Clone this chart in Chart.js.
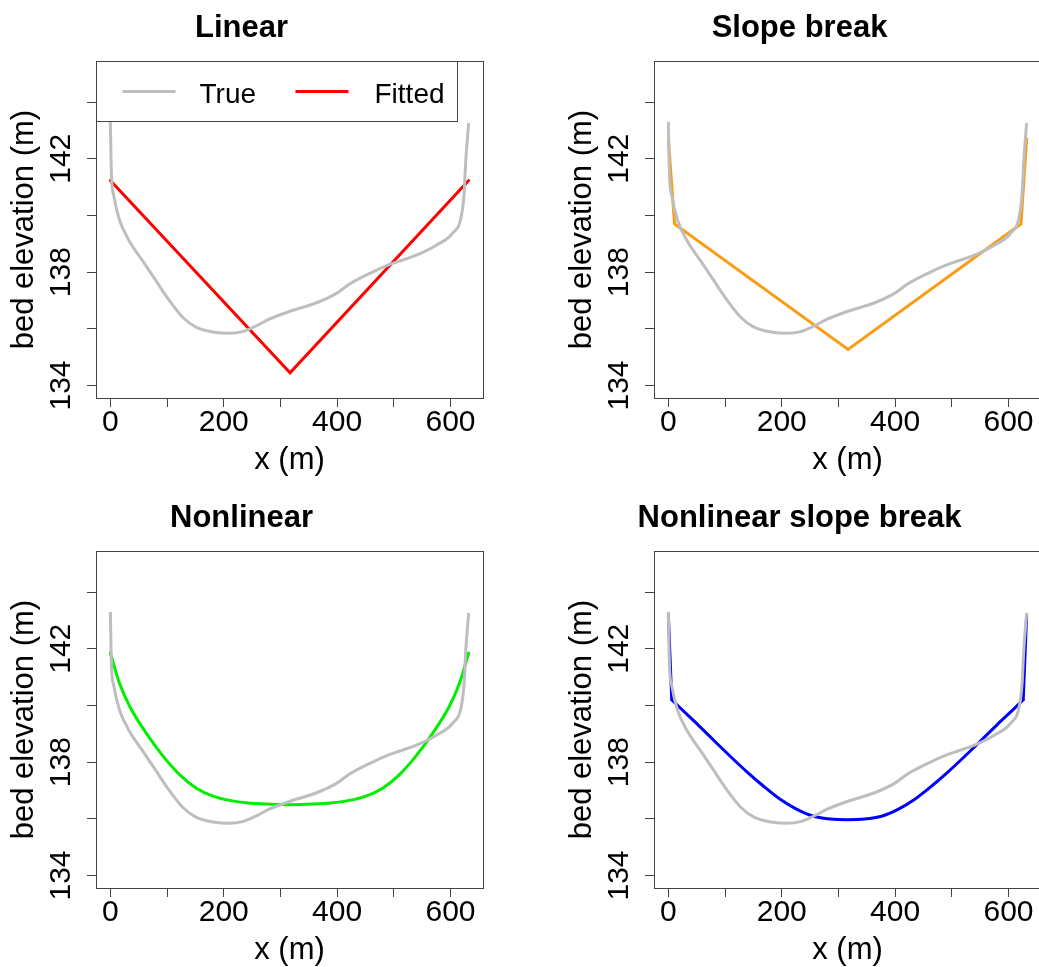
<!DOCTYPE html>
<html>
<head>
<meta charset="utf-8">
<script src="https://cdn.jsdelivr.net/npm/chart.js@4.4.0/dist/chart.umd.min.js"></script>
<style>
  html, body { margin: 0; padding: 0; background: #fff; overflow: hidden; width: 1039px; height: 967px; }
  .panel { position: absolute; width: 520px; height: 480px; }
</style>
</head>
<body>
<div class="panel" style="left:0;top:0"><canvas id="p1"></canvas></div>
<div class="panel" style="left:558px;top:0"><canvas id="p2"></canvas></div>
<div class="panel" style="left:0;top:490px"><canvas id="p3"></canvas></div>
<div class="panel" style="left:558px;top:490px"><canvas id="p4"></canvas></div>
<script>
// true bed profile (same in every panel)
const trueX = [0, 2, 6, 16, 34, 58, 81, 104, 128, 151, 181, 210, 233, 257, 280, 317, 364, 399, 422, 457, 493, 540, 575, 604, 619, 624, 627, 632];
const trueY = [143.3, 141.4, 140.7, 139.85, 139.08, 138.37, 137.68, 137.0, 136.4, 136.06, 135.89, 135.84, 135.9, 136.1, 136.34, 136.62, 136.92, 137.25, 137.58, 137.95, 138.27, 138.6, 138.95, 139.38, 139.97, 140.79, 141.96, 143.26];

// fitted profiles
const linearX = [0, 317, 632];
const linearY = [141.23, 134.45, 141.23];
const breakX = [0, 11, 317, 622, 632];
const breakY = [142.7, 139.7, 135.27, 139.7, 142.7];
const nonlinX = [0, 16, 34, 63, 93, 122, 151, 181, 210, 239, 275, 316, 357, 393, 422, 451, 481, 510, 539, 569, 598, 616, 632];
const nonlinY = [141.85, 140.79, 139.97, 139.03, 138.21, 137.56, 137.09, 136.8, 136.65, 136.57, 136.52, 136.5, 136.52, 136.57, 136.65, 136.8, 137.09, 137.56, 138.21, 139.03, 139.97, 140.79, 141.85];
// nonlinear slope break: two steep bank segments and the curved bed between the breaks
const nlBankLeftX = [0, 6];
const nlBankLeftY = [143.2, 140.2];
const nlBedX = [6, 22, 51, 80, 110, 139, 168, 198, 226, 256, 286, 316, 346, 376, 406, 434, 464, 493, 522, 552, 581, 610, 626];
const nlBedY = [140.2, 139.89, 139.34, 138.77, 138.19, 137.65, 137.15, 136.68, 136.34, 136.09, 135.99, 135.97, 135.99, 136.09, 136.34, 136.68, 137.15, 137.65, 138.19, 138.77, 139.34, 139.89, 140.2];
const nlBankRightX = [626, 632];
const nlBankRightY = [140.2, 143.2];

const xTickValues = [0, 100, 200, 300, 400, 500, 600];
const xTickLabels = [0, 200, 400, 600];
const yTickValues = [134, 136, 138, 140, 142, 144];
const yTickLabels = [134, 138, 142];
const legendLabels = ['True', 'Fitted'];

const FONT = '"Liberation Sans", Arial, Helvetica, sans-serif';
const AXIS = '#444';

function pts(xs, ys) {
  return xs.map((x, i) => ({x: x, y: ys[i]}));
}

// draws the full box round the plot region, like R's box()
const plotBox = {
  id: 'plotBox',
  afterDraw(chart) {
    const a = chart.chartArea, ctx = chart.ctx;
    ctx.save();
    ctx.strokeStyle = AXIS;
    ctx.lineWidth = 1;
    ctx.strokeRect(Math.round(a.left) + 0.5, Math.round(a.top) + 0.5,
                   Math.round(a.right - a.left), Math.round(a.bottom - a.top));
    ctx.restore();
  }
};

// legend in the top-left corner of the plot region
const boxLegend = {
  id: 'boxLegend',
  afterDatasetsDraw(chart, args, opts) {
    if (!opts.show) return;
    const a = chart.chartArea, ctx = chart.ctx;
    const ds = chart.data.datasets;
    const left = Math.round(a.left) + 0.5, top = Math.round(a.top) + 0.5;
    ctx.save();
    ctx.fillStyle = '#fff';
    ctx.fillRect(left, top, 361, 60);
    ctx.strokeStyle = AXIS;
    ctx.lineWidth = 1;
    ctx.strokeRect(left, top, 361, 60);
    const lineY = top + 30;
    const items = [[26, 103], [199, 278]];
    ctx.font = '28px ' + FONT;
    ctx.textBaseline = 'alphabetic';
    ctx.textAlign = 'left';
    items.forEach((it, i) => {
      ctx.strokeStyle = ds[i].borderColor;
      ctx.lineWidth = 3;
      ctx.beginPath();
      ctx.moveTo(left + it[0], lineY);
      ctx.lineTo(left + it[0] + 53, lineY);
      ctx.stroke();
      ctx.fillStyle = '#000';
      ctx.fillText(ds[i].label, left + it[1], top + 41);
    });
    ctx.restore();
  }
};

// fits: list of [xs, ys, curved] pieces, all drawn in the fitted colour
function makePanel(id, title, fits, color, showLegend) {
  const datasets = [
    {label: legendLabels[0], data: pts(trueX, trueY), borderColor: '#bebebe', borderWidth: 3,
     pointRadius: 0, cubicInterpolationMode: 'monotone', fill: false}
  ];
  fits.forEach(f => datasets.push({
    label: legendLabels[1], data: pts(f[0], f[1]), borderColor: color, borderWidth: 3,
    borderCapStyle: 'round', pointRadius: 0, tension: 0,
    cubicInterpolationMode: f[2] ? 'monotone' : 'default', fill: false
  }));
  return new Chart(document.getElementById(id), {
    type: 'line',
    data: {datasets: datasets},
    options: {
      responsive: true,
      maintainAspectRatio: false,
      animation: false,
      events: [],
      layout: {padding: {left: 0, right: 37, top: 0, bottom: 0}},
      plugins: {
        legend: {display: false},
        tooltip: {enabled: false},
        boxLegend: {show: showLegend},
        title: {
          display: true, text: title, color: '#000',
          font: {family: FONT, size: 31, weight: 'bold', lineHeight: 1.2},
          padding: {top: 10, bottom: 14}
        }
      },
      scales: {
        x: {
          type: 'linear', min: -25.3, max: 657.3,
          afterBuildTicks: s => { s.ticks = xTickValues.map(v => ({value: v})); },
          afterFit: s => { s.height = 82; },
          grid: {drawOnChartArea: false, drawTicks: true, tickLength: 9, color: AXIS},
          border: {display: true, color: AXIS},
          ticks: {
            autoSkip: false, minRotation: 0, maxRotation: 0, padding: 1, color: '#000',
            font: {family: FONT, size: 30, lineHeight: 1},
            callback: v => xTickLabels.includes(v) ? String(v) : ''
          },
          title: {display: true, text: 'x (m)', color: '#000',
                  font: {family: FONT, size: 31, lineHeight: 1.2}, padding: {top: 0, bottom: 1}}
        },
        y: {
          type: 'linear', min: 133.56, max: 145.44,
          afterBuildTicks: s => { s.ticks = yTickValues.map(v => ({value: v})); },
          afterFit: s => { s.width = 96; },
          grid: {drawOnChartArea: false, drawTicks: true, tickLength: 9, color: AXIS},
          border: {display: true, color: AXIS},
          ticks: {
            autoSkip: false, minRotation: 90, maxRotation: 90, crossAlign: 'center', padding: 0,
            color: '#000', font: {family: FONT, size: 30, lineHeight: 1},
            callback: v => yTickLabels.includes(v) ? String(v) : ''
          },
          title: {display: true, text: 'bed elevation (m)', color: '#000',
                  font: {family: FONT, size: 31, lineHeight: 1.2}, padding: {top: 6, bottom: 0}}
        }
      }
    },
    plugins: [plotBox, boxLegend]
  });
}

makePanel('p1', 'Linear', [[linearX, linearY, false]], '#ff0000', true);
makePanel('p2', 'Slope break', [[breakX, breakY, false]], '#fb9d14', false);
makePanel('p3', 'Nonlinear', [[nonlinX, nonlinY, true]], '#00ee00', false);
makePanel('p4', 'Nonlinear slope break',
          [[nlBankLeftX, nlBankLeftY, false], [nlBedX, nlBedY, true], [nlBankRightX, nlBankRightY, false]],
          '#0000ff', false);
</script>
</body>
</html>
